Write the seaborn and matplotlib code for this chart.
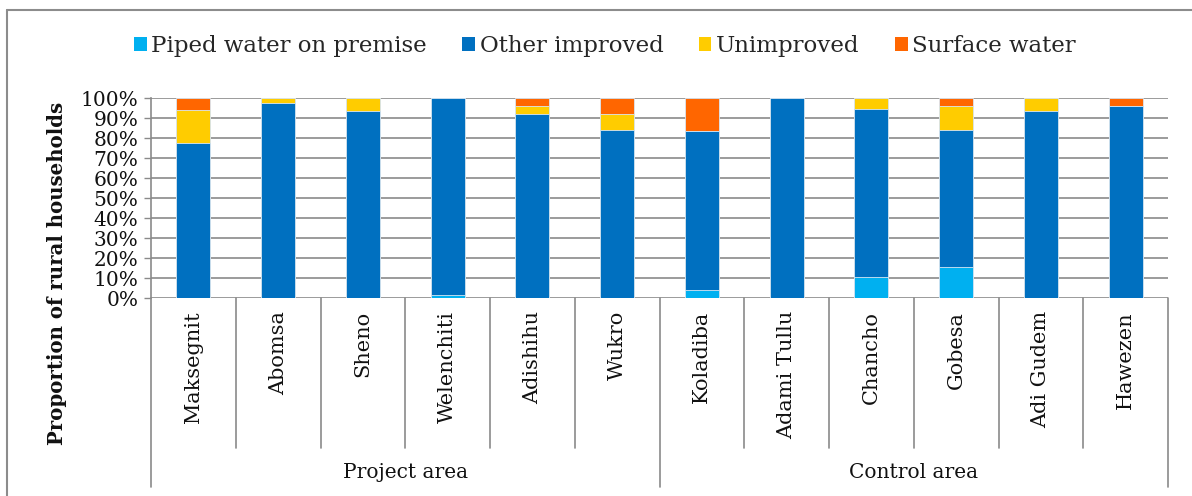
import matplotlib
matplotlib.use("Agg")
import matplotlib.pyplot as plt
import matplotlib.transforms as mtransforms
from matplotlib.lines import Line2D
from matplotlib.patches import Patch
import numpy as np
import pandas as pd
import seaborn as sns

sites = ["Maksegnit", "Abomsa", "Sheno", "Welenchiti", "Adishihu", "Wukro",
         "Koladiba", "Adami Tullu", "Chancho", "Gobesa", "Adi Gudem", "Hawezen"]
groups = ["Project area", "Control area"]
group_sizes = [6, 6]
piped = [0.0, 0.0, 0.0, 1.5, 0.0, 0.0, 3.8, 0.0, 10.5, 15.5, 0.0, 0.0]
other = [77.5, 97.7, 93.5, 98.5, 91.8, 84.0, 79.7, 100.0, 84.0, 68.7, 93.5, 96.0]
unimproved = [16.3, 2.3, 6.5, 0.0, 4.2, 7.8, 0.0, 0.0, 5.5, 11.8, 6.5, 0.0]
surface = [6.2, 0.0, 0.0, 0.0, 4.0, 8.2, 16.5, 0.0, 0.0, 4.0, 0.0, 4.0]
series_names = ["Piped water on premise", "Other improved", "Unimproved", "Surface water"]
colors = ["#00B0F0", "#0070C0", "#FFCC00", "#FF6600"]
yticks = list(range(0, 101, 10))

df = pd.DataFrame({"site": sites, "piped": piped, "other": other,
                   "unimproved": unimproved, "surface": surface})
df["c1"] = df["piped"]
df["c2"] = df["c1"] + df["other"]
df["c3"] = df["c2"] + df["unimproved"]
df["c4"] = df["c3"] + df["surface"]

sns.set_theme(style="white")
plt.rcParams["font.family"] = ["DejaVu Serif"]

W, H = 1192, 496
fig = plt.figure(figsize=(W / 100, H / 100), dpi=100)
ax_l, ax_r, ax_t, ax_b = 151, 1168, 98, 298
ax = fig.add_axes([ax_l / W, 1 - ax_b / H, (ax_r - ax_l) / W, (ax_b - ax_t) / H])

for col, c in zip(["c4", "c3", "c2", "c1"], colors[::-1]):
    sns.barplot(data=df, x="site", y=col, color=c, width=0.4, ax=ax,
                order=sites, edgecolor="#d9e6f2", linewidth=0.6, saturation=1)

ax.set_ylim(0, 100)
ax.set_xlim(-0.5, len(sites) - 0.5)
ax.set_yticks(yticks)
ax.set_yticklabels([f"{t}%" for t in yticks], fontsize=14.5, color="#111111")
ax.yaxis.grid(True, color="#8a8a8a", linewidth=1.2)
ax.set_axisbelow(True)
ax.set_xticks([])
ax.set_xlabel("")
ax.set_ylabel("")
ax.tick_params(axis="y", length=5, width=1, color="#8a8a8a", left=True, pad=4)
for s in ["top", "right"]:
    ax.spines[s].set_visible(False)
ax.spines["bottom"].set_visible(False)
ax.spines["left"].set_color("#8a8a8a")
ax.spines["left"].set_linewidth(1.2)

trans = mtransforms.blended_transform_factory(ax.transData, ax.transAxes)
# category labels
for i, s in enumerate(sites):
    ax.text(i, -0.065, s, transform=trans, rotation=90, ha="center", va="top",
            fontsize=15, color="#111111")
# separators
bounds = np.cumsum([0] + group_sizes)
for k in range(len(sites) + 1):
    x = k - 0.5
    y_end = -0.945 if k in bounds else -0.75
    ax.add_line(Line2D([x, x], [0, y_end], transform=trans, color="#8a8a8a",
                       linewidth=1.2, clip_on=False))
# group labels
for g, a, b in zip(groups, bounds[:-1], bounds[1:]):
    ax.text((a + b - 1) / 2, -0.87, g, transform=trans, ha="center", va="center",
            fontsize=14.5, color="#111111")

# y label
fig.text(57 / W, 1 - 273 / H, "Proportion of rural households", rotation=90,
         ha="center", va="center", fontsize=14.2, fontweight="bold", color="#111111")

handles = [Patch(facecolor=c, edgecolor="none") for c in colors]
fig.legend(handles, series_names, loc="center", bbox_to_anchor=(605 / W, 1 - 46 / H),
           ncol=4, frameon=False, fontsize=16.5, handlelength=0.55, handleheight=0.55,
           handletextpad=0.2, columnspacing=1.55)

# outer border
fig.add_artist(Line2D([7 / W, 1], [1 - 10 / H, 1 - 10 / H], transform=fig.transFigure,
                      color="#8c8c8c", linewidth=1.5))
fig.add_artist(Line2D([7 / W, 7 / W], [0, 1 - 10 / H], transform=fig.transFigure,
                      color="#8c8c8c", linewidth=1.5))

fig.savefig("out.png", dpi=100)
